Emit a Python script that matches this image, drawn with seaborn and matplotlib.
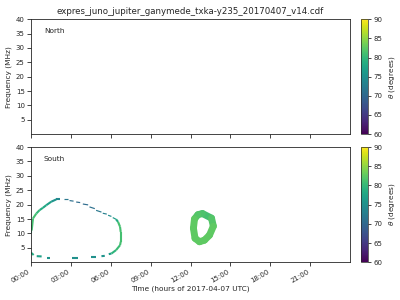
import numpy as np
import pandas as pd
import matplotlib
matplotlib.use("Agg")
import matplotlib.pyplot as plt
import seaborn as sns

title = "expres_juno_jupiter_ganymede_txka-y235_20170407_v14.cdf"
xtick_hours = [0, 3, 6, 9, 12, 15, 18, 21]
xtick_labels = ["00:00", "03:00", "06:00", "09:00", "12:00", "15:00", "18:00", "21:00"]
ytick_values = [5, 10, 15, 20, 25, 30, 35, 40]
cbar_ticks = [60, 65, 70, 75, 80, 85, 90]

# South arc (left loop): short segments (start time h, end time h, start MHz, end MHz, theta deg)
arc_t0 = [0.02, 0.05, 0.15, 0.40, 0.65, 0.90, 1.15, 1.52, 1.90,
          2.50, 2.90, 3.40, 3.90, 4.40, 4.90, 5.40, 5.80, 6.15, 6.40,
          6.55, 6.70, 6.75, 6.75, 6.70, 6.40,
          5.85, 5.30, 4.55, 3.05, 1.18, 0.43, 0.00]
arc_t1 = [0.02, 0.15, 0.40, 0.65, 0.90, 1.15, 1.52, 1.90, 2.15,
          2.80, 3.20, 3.70, 4.30, 4.80, 5.30, 5.70, 6.05, 6.40, 6.55,
          6.70, 6.75, 6.75, 6.70, 6.40, 6.05,
          6.05, 5.55, 4.90, 3.55, 1.45, 0.80, 0.20]
arc_f0 = [10.0, 11.0, 15.2, 16.9, 18.1, 18.9, 19.8, 21.0, 21.8,
          21.8, 21.4, 20.9, 20.2, 19.2, 18.0, 17.0, 16.3, 15.5, 14.9,
          14.0, 12.3, 10.5, 7.1, 5.9, 4.2,
          2.8, 2.1, 1.9, 1.6, 1.6, 2.1, 3.3]
arc_f1 = [13.0, 15.2, 16.9, 18.1, 18.9, 19.8, 21.0, 21.8, 21.8,
          21.8, 21.2, 20.7, 19.9, 18.6, 17.4, 16.7, 15.9, 14.9, 14.0,
          12.3, 10.5, 7.1, 5.9, 4.2, 3.0,
          3.0, 2.2, 1.9, 1.6, 1.6, 2.0, 2.5]
arc_theta = [77.5, 81, 81, 80, 78.5, 78, 77, 75.5, 74,
             72, 71, 70.5, 70.5, 71, 72, 73, 74.5, 76.5, 78.5,
             81, 81, 81, 81, 80.5, 79.5,
             76.5, 75.5, 75, 75, 75.5, 77, 78.5]

# South blob (ring near 12-14 h): closed path vertices
ring_t = [12.90, 13.58, 13.72, 13.43, 13.05, 12.68, 12.34, 12.22, 12.30, 12.56, 12.90]
ring_f = [16.9, 15.3, 12.5, 9.4, 7.65, 7.1, 8.3, 11.8, 15.0, 16.5, 16.9]
ring_theta = [81, 82, 82.5, 82.5, 82.5, 82.5, 82.5, 82.5, 82, 81.5, 81]

sns.set_theme(style="ticks")
plt.rcParams["font.family"] = ["DejaVu Sans"]

fig = plt.figure(figsize=(4, 3), dpi=100)
ax_n = fig.add_axes([0.0775, 0.553, 0.7975, 0.383])
ax_s = fig.add_axes([0.0775, 0.126, 0.7975, 0.384])
cax_n = fig.add_axes([0.9025, 0.553, 0.0175, 0.383])
cax_s = fig.add_axes([0.9025, 0.126, 0.0175, 0.384])

norm = matplotlib.colors.Normalize(vmin=60, vmax=90)
cmap = plt.get_cmap("viridis")

# arc segments; the upper dotted stretch (sparser sampling) is drawn thinner
thin_segments = set(range(9, 18))
rows = []
for i in range(len(arc_t0)):
    w = "thin" if i in thin_segments else "thick"
    rows.append(dict(t=arc_t0[i], f=arc_f0[i], theta=arc_theta[i], seg=i, w=w))
    rows.append(dict(t=arc_t1[i], f=arc_f1[i], theta=arc_theta[i], seg=i, w=w))
df_arc = pd.DataFrame(rows)
for w, lw in [("thick", 1.5), ("thin", 0.85)]:
    sns.lineplot(data=df_arc[df_arc.w == w], x="t", y="f", hue="theta", units="seg",
                 estimator=None, sort=False, palette="viridis", hue_norm=(60, 90),
                 legend=False, linewidth=lw, solid_capstyle="butt", ax=ax_s)

rows = []
for i in range(len(ring_t) - 1):
    rows.append(dict(t=ring_t[i], f=ring_f[i], theta=ring_theta[i], seg=i))
    rows.append(dict(t=ring_t[i + 1], f=ring_f[i + 1], theta=ring_theta[i], seg=i))
df_ring = pd.DataFrame(rows)
sns.lineplot(data=df_ring, x="t", y="f", hue="theta", units="seg", estimator=None,
             sort=False, palette="viridis", hue_norm=(60, 90), legend=False,
             linewidth=5.0, solid_capstyle="round", ax=ax_s)

for ax, label in [(ax_n, "North"), (ax_s, "South")]:
    ax.set_xlim(0, 24)
    ax.set_ylim(0, 40)
    ax.set_yticks(ytick_values)
    ax.set_xticks(xtick_hours)
    ax.tick_params(labelsize=5, length=3, width=0.6, pad=1.5)
    ax.set_ylabel("Frequency (MHz)", fontsize=5.3, labelpad=3)
    ax.set_xlabel("")
    ax.text(0.04, 0.9, label, transform=ax.transAxes, fontsize=5.3, va="center", ha="left",
            color="0.15")
    for sp in ax.spines.values():
        sp.set_linewidth(0.6)
        sp.set_visible(True)

ax_n.set_xticklabels([])
ax_s.set_xticklabels(xtick_labels, rotation=30, ha="right")
ax_s.set_xlabel("Time (hours of 2017-04-07 UTC)", fontsize=5.3, labelpad=1)
ax_n.set_title(title, fontsize=6.2, pad=4)

for cax in (cax_n, cax_s):
    cb = fig.colorbar(matplotlib.cm.ScalarMappable(norm=norm, cmap=cmap), cax=cax, ticks=cbar_ticks)
    cb.outline.set_linewidth(0.5)
    cax.tick_params(labelsize=5, length=2.5, width=0.6, pad=1.5)
    cb.set_label(r"$\theta$ (degrees)", fontsize=5.3, labelpad=3)

fig.savefig("out.png", dpi=100)
